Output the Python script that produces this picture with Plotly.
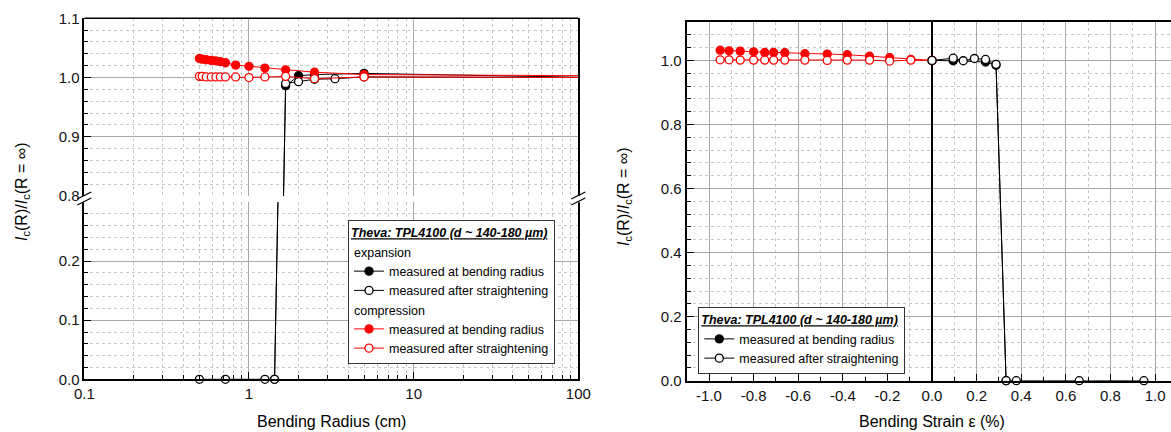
import plotly.graph_objects as go

# ---------------- data: left panel (bending radius, cm) ----------------
R_INF = 125  # plotting position used for R = infinity (outside the 0.1-100 range)

R_comp = [0.5, 0.52, 0.55, 0.59, 0.63, 0.67, 0.72, 0.83, 1.0, 1.25, 1.67, 2.5, 5.0]
Ic_comp_bent = [1.032, 1.031, 1.030, 1.029, 1.028, 1.027, 1.025, 1.021, 1.019, 1.016, 1.013, 1.009, 1.005]
Ic_comp_straight = [1.002, 1.002, 1.001, 1.001, 1.001, 1.001, 1.001, 1.001, 1.000, 1.001, 1.002, 0.998, 1.001]
Ic_comp_bent_inf = 1.003
Ic_comp_straight_inf = 1.000

R_exp_bent = [1.43, 1.67, 2.0, 2.5, 5.0]
Ic_exp_bent = [0.0, 0.986, 1.003, 1.005, 1.007]
R_exp_straight = [0.5, 0.72, 1.25, 1.43, 1.67, 2.0, 2.5, 3.33, 5.0]
Ic_exp_straight = [0.0, 0.0, 0.0, 0.0, 0.990, 0.993, 0.997, 0.998, 1.001]
Ic_exp_bent_inf = 1.000
Ic_exp_straight_inf = 1.000

# ---------------- data: right panel (bending strain, %) ----------------
eps_comp = [-0.95, -0.91, -0.86, -0.80, -0.75, -0.71, -0.66, -0.57, -0.47, -0.38, -0.28, -0.19, -0.095, 0.0]
Ic_comp_bent_s = [1.032, 1.030, 1.029, 1.027, 1.025, 1.025, 1.024, 1.021, 1.020, 1.018, 1.013, 1.009, 1.003, 1.000]
Ic_comp_straight_s = [1.002, 1.002, 1.001, 1.001, 1.001, 1.001, 1.001, 1.001, 1.000, 1.001, 1.001, 0.998, 1.001, 1.000]

eps_exp_bent = [0.0, 0.095, 0.24, 0.287, 0.332]
Ic_exp_bent_s = [1.000, 0.999, 0.995, 0.985, 0.0]
eps_exp_straight = [0.0, 0.095, 0.14, 0.19, 0.24, 0.287, 0.332, 0.378, 0.66, 0.95]
Ic_exp_straight_s = [1.000, 1.007, 0.999, 1.006, 1.003, 0.988, 0.0, 0.0, 0.0, 0.0]

strain_ticks = [-1.0, -0.8, -0.6, -0.4, -0.2, 0.0, 0.2, 0.4, 0.6, 0.8, 1.0]
strain_ticktext = ["-1.0", "-0.8", "-0.6", "-0.4", "-0.2", "0.0", "0.2", "0.4", "0.6", "0.8", "1.0"]

legend_title = "Theva: TPL4100 (d ~ 140-180 \u00b5m)"
label_bent = "measured at bending radius"
label_straight = "measured after straightening"

# ---------------- layout geometry (pixels -> paper) ----------------
W, H = 1171, 432
def px(x):
    return x / W
def py(y):
    return 1 - y / H

FONT = "Arial, Liberation Sans, sans-serif"
RED = "#ff0000"
BLACK = "#000000"
MS = 8

fig = go.Figure()

def add_left(x, y, y_inf, color, filled, name, group, gtitle, rank):
    for yax, show in (("y", False), ("y2", True)):
        # segment toward R = infinity (no marker)
        fig.add_trace(go.Scatter(
            x=[x[-1], R_INF], y=[y[-1], y_inf], mode="lines", xaxis="x", yaxis=yax,
            line=dict(color=color, width=1), showlegend=False, hoverinfo="skip"))
        fig.add_trace(go.Scatter(
            x=x, y=y, mode="lines+markers", xaxis="x", yaxis=yax,
            line=dict(color=color, width=1),
            marker=dict(symbol="circle", size=MS,
                        color=color if filled else "white",
                        line=dict(color=color, width=1.3)),
            name=name, legendgroup=group, showlegend=show, legend="legend",
            legendgrouptitle=dict(text=gtitle, font=dict(size=12.5, family=FONT, color="black")),
            legendrank=rank, cliponaxis=False))

add_left(R_exp_bent, Ic_exp_bent, Ic_exp_bent_inf, BLACK, True, label_bent, "exp", "expansion", 1)
add_left(R_exp_straight, Ic_exp_straight, Ic_exp_straight_inf, BLACK, False, label_straight, "exp", "expansion", 2)
add_left(R_comp, Ic_comp_bent, Ic_comp_bent_inf, RED, True, label_bent, "comp", "compression", 3)
add_left(R_comp, Ic_comp_straight, Ic_comp_straight_inf, RED, False, label_straight, "comp", "compression", 4)

def add_right(x, y, color, filled, name, show, rank):
    fig.add_trace(go.Scatter(
        x=x, y=y, mode="lines+markers", xaxis="x3", yaxis="y3",
        line=dict(color=color, width=1),
        marker=dict(symbol="circle", size=MS,
                    color=color if filled else "white",
                    line=dict(color=color, width=1.3)),
        name=name, showlegend=show, legend="legend2", legendrank=rank,
        cliponaxis=False))

add_right(eps_comp, Ic_comp_bent_s, RED, True, label_bent, False, 3)
add_right(eps_comp, Ic_comp_straight_s, RED, False, label_straight, False, 4)
add_right(eps_exp_bent, Ic_exp_bent_s, BLACK, True, label_bent, True, 1)
add_right(eps_exp_straight, Ic_exp_straight_s, BLACK, False, label_straight, True, 2)

GRID = "#a8a8a8"
MINOR_GRID = "#c8c8c8"
tickfont = dict(family=FONT, size=15, color="#111")

common_y = dict(
    showline=True, linecolor="black", linewidth=1.6, mirror=True,
    ticks="inside", ticklen=7, tickcolor="black", tickwidth=1,
    showgrid=True, gridcolor=GRID, gridwidth=1, zeroline=False,
    tickfont=tickfont, tickformat=".1f", automargin=False,
)

fig.update_layout(
    width=W, height=H,
    margin=dict(l=0, r=0, t=0, b=0),
    paper_bgcolor="white", plot_bgcolor="white",
    font=dict(family=FONT, color="black"),
    xaxis=dict(
        type="log", range=[-1, 2], domain=[px(84.3), px(578.3)], anchor="y",
        dtick=1, showline=True, linecolor="black", linewidth=2,
        ticks="inside", ticklen=7, tickcolor="black",
        showgrid=True, gridcolor=GRID, zeroline=False,
        minor=dict(dtick="D1", ticks="inside", ticklen=4, tickcolor="black",
                   showgrid=True, gridcolor=MINOR_GRID, griddash="dot", gridwidth=1),
        tickfont=tickfont, automargin=False,
    ),
    yaxis=dict(
        domain=[py(379.3), py(202.3)], range=[0, 0.2995], anchor="x",
        tick0=0, dtick=0.1,
        minor=dict(tick0=0, dtick=0.02, ticks="inside", ticklen=4, tickcolor="black",
                   showgrid=True, gridcolor=MINOR_GRID, griddash="dot"),
        **common_y,
    ),
    yaxis2=dict(
        domain=[py(196), py(18.3)], range=[0.8, 1.1], anchor="x",
        tick0=0.8, dtick=0.1,
        minor=dict(tick0=0.8, dtick=0.02, ticks="inside", ticklen=4, tickcolor="black",
                   showgrid=True, gridcolor=MINOR_GRID, griddash="dot"),
        **common_y,
    ),
    xaxis3=dict(
        range=[-1.1, 1.0715], domain=[px(686.7), 1.0], anchor="y3",
        tickmode="array", tickvals=strain_ticks, ticktext=strain_ticktext,
        showline=True, linecolor="black", linewidth=2, mirror=True,
        ticks="inside", ticklen=7, tickcolor="black",
        showgrid=True, gridcolor=GRID,
        zeroline=True, zerolinecolor="black", zerolinewidth=2,
        minor=dict(tickmode="linear", tick0=0, dtick=0.1, ticks="inside", ticklen=4,
                   tickcolor="black", showgrid=True, gridcolor=MINOR_GRID, griddash="dot"),
        tickfont=tickfont, automargin=False,
    ),
    yaxis3=dict(
        range=[0, 1.12], domain=[py(380.7), py(22)], anchor="x3",
        tick0=0, dtick=0.2,
        showline=True, linecolor="black", linewidth=2, mirror=False,
        ticks="inside", ticklen=7, tickcolor="black", tickwidth=1,
        showgrid=True, gridcolor=GRID, zeroline=False,
        minor=dict(tick0=0, dtick=0.04, ticks="inside", ticklen=4, tickcolor="black",
                   showgrid=True, gridcolor=MINOR_GRID, griddash="dot"),
        tickfont=tickfont, tickformat=".1f", automargin=False,
    ),
    legend=dict(
        title=dict(text=legend_title,
                   font=dict(family=FONT, size=12.5, color="black", weight="bold",
                             style="italic", lineposition="under")),
        x=px(555), xanchor="right", y=py(364), yanchor="bottom",
        bgcolor="white", bordercolor="#333", borderwidth=1,
        traceorder="grouped", tracegroupgap=0,
        font=dict(family=FONT, size=12.5, color="black"),
    ),
    legend2=dict(
        title=dict(text=legend_title,
                   font=dict(family=FONT, size=12.5, color="black", weight="bold",
                             style="italic", lineposition="under")),
        x=px(698.3), xanchor="left", y=py(374), yanchor="bottom",
        bgcolor="white", bordercolor="#333", borderwidth=1,
        traceorder="normal",
        font=dict(family=FONT, size=12.5, color="black"),
    ),
    showlegend=True,
)

ytitle = "<i>I</i><sub>c</sub>(R)/<i>I</i><sub>c</sub>(R = \u221e)"
title_font = dict(family=FONT, size=16, color="black")
fig.add_annotation(text=ytitle, textangle=-90, x=px(22), y=py(191), xref="paper", yref="paper",
                   showarrow=False, font=title_font, xanchor="center", yanchor="middle")
fig.add_annotation(text=ytitle, textangle=-90, x=px(624), y=py(197), xref="paper", yref="paper",
                   showarrow=False, font=title_font, xanchor="center", yanchor="middle")
fig.add_annotation(text="Bending Radius (cm)", x=px(331.3), y=py(421), xref="paper", yref="paper",
                   showarrow=False, font=title_font, xanchor="center", yanchor="middle")
fig.add_annotation(text="Bending Strain \u03b5 (%)", x=px(932.3), y=py(421), xref="paper", yref="paper",
                   showarrow=False, font=title_font, xanchor="center", yanchor="middle")

# top border of the left panel
fig.add_shape(type="line", xref="x domain", yref="y2 domain", x0=0, x1=1, y0=1, y1=1,
              line=dict(color="black", width=1.6))

# axis-break marks
for xc in (84.3, 578.3):
    fig.add_shape(type="rect", xref="paper", yref="paper",
                  x0=px(xc - 3), x1=px(xc + 3), y0=py(202.3), y1=py(196),
                  line=dict(width=0), fillcolor="white")
    for dy in (0, 6):
        fig.add_shape(type="line", xref="paper", yref="paper",
                      x0=px(xc - 7), y0=py(202 + dy - 3), x1=px(xc + 7), y1=py(195 + dy - 3),
                      line=dict(color="black", width=1.3))

fig.write_html("out.html", config={"displayModeBar": False},
               post_script="document.body.style.margin='0';document.body.style.padding='0';")
